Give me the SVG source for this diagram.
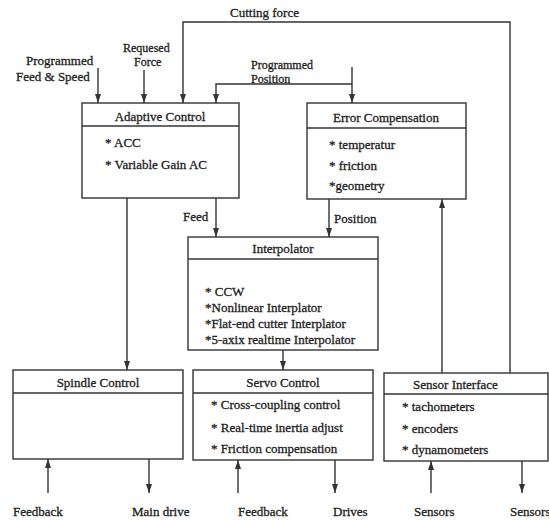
<svg xmlns="http://www.w3.org/2000/svg" width="549" height="521" viewBox="0 0 549 521">
<defs>
<marker id="ah" markerUnits="userSpaceOnUse" markerWidth="10" markerHeight="8" refX="9" refY="3" orient="auto">
<path d="M0,0 L9,3 L0,6 z" fill="#333"/>
</marker>
<style>
.box{fill:#fff;stroke:#333;stroke-width:1.4}
.div{stroke:#333;stroke-width:1.3}
.arr{fill:none;stroke:#333;stroke-width:1.4;marker-end:url(#ah)}
text{font-family:"Liberation Serif","Times New Roman",serif;font-size:13px;fill:#222;stroke:#222;stroke-width:0.3}
.c{text-anchor:middle}
.s{font-size:12px}
</style>
</defs>
<rect width="549" height="521" fill="#fff"/>
<g id="connectors">
<path class="arr" d="M98,68 V103"/>
<path class="arr" d="M144,70 V103"/>
<path class="arr" d="M510,373 V22 H183 V103"/>
<path class="arr" d="M352,67 V103"/>
<path class="arr" d="M352,84 H216 V103"/>
<path class="arr" d="M216,198 V237"/>
<path class="arr" d="M127,198 V370"/>
<path class="arr" d="M329,199 V237"/>
<path class="arr" d="M283,350 V370"/>
<path class="arr" d="M442,373 V199"/>
<path class="arr" d="M48,493 V459"/>
<path class="arr" d="M149,459 V493"/>
<path class="arr" d="M238,493 V460"/>
<path class="arr" d="M335,460 V493"/>
<path class="arr" d="M431,493 V461"/>
<path class="arr" d="M522,461 V493"/>
</g>
<g id="labels">
<text x="230" y="17">Cutting force</text>
<text x="26" y="65">Programmed</text>
<text x="16" y="81">Feed &amp; Speed</text>
<text class="s" x="123" y="52">Requesed</text>
<text class="s" x="134" y="66">Force</text>
<text class="s" x="251" y="69">Programmed</text>
<text class="s" x="251" y="83">Position</text>
<text x="183" y="221">Feed</text>
<text x="334" y="223">Position</text>
<text x="13" y="516">Feedback</text>
<text x="132" y="516">Main drive</text>
<text x="238" y="516">Feedback</text>
<text x="333" y="516">Drives</text>
<text x="414" y="516">Sensors</text>
<text x="510" y="516">Sensors</text>
</g>
<g id="adaptive-control">
<rect class="box" x="82" y="103" width="157" height="95"/>
<line class="div" x1="82" y1="126" x2="239" y2="126"/>
<text class="c" x="160" y="121">Adaptive Control</text>
<text x="105" y="147">* ACC</text>
<text x="105" y="169">* Variable Gain AC</text>
</g>
<g id="error-compensation">
<rect class="box" x="307" y="103" width="159" height="96"/>
<line class="div" x1="307" y1="128" x2="466" y2="128"/>
<text class="c" x="386" y="122">Error Compensation</text>
<text x="329" y="149">* temperatur</text>
<text x="329" y="170">* friction</text>
<text x="329" y="190">*geometry</text>
</g>
<g id="interpolator">
<rect class="box" x="188" y="237" width="190" height="113"/>
<line class="div" x1="188" y1="259" x2="378" y2="259"/>
<text class="c" x="283" y="253">Interpolator</text>
<text x="205" y="296">* CCW</text>
<text x="205" y="312">*Nonlinear Interplator</text>
<text x="205" y="328">*Flat-end cutter Interplator</text>
<text x="205" y="344">*5-axix realtime Interpolator</text>
</g>
<g id="spindle-control">
<rect class="box" x="13" y="370" width="170" height="89"/>
<line class="div" x1="13" y1="393" x2="183" y2="393"/>
<text class="c" x="98" y="387">Spindle Control</text>
</g>
<g id="servo-control">
<rect class="box" x="193" y="370" width="180" height="90"/>
<line class="div" x1="193" y1="393" x2="373" y2="393"/>
<text class="c" x="283" y="387">Servo Control</text>
<text x="211" y="409">* Cross-coupling control</text>
<text x="211" y="432">* Real-time inertia adjust</text>
<text x="211" y="453">* Friction compensation</text>
</g>
<g id="sensor-interface">
<rect class="box" x="384" y="373" width="164" height="88"/>
<line class="div" x1="384" y1="394" x2="548" y2="394"/>
<text x="413" y="389">Sensor Interface</text>
<text x="402" y="411">* tachometers</text>
<text x="402" y="433">* encoders</text>
<text x="402" y="454">* dynamometers</text>
</g>
</svg>
